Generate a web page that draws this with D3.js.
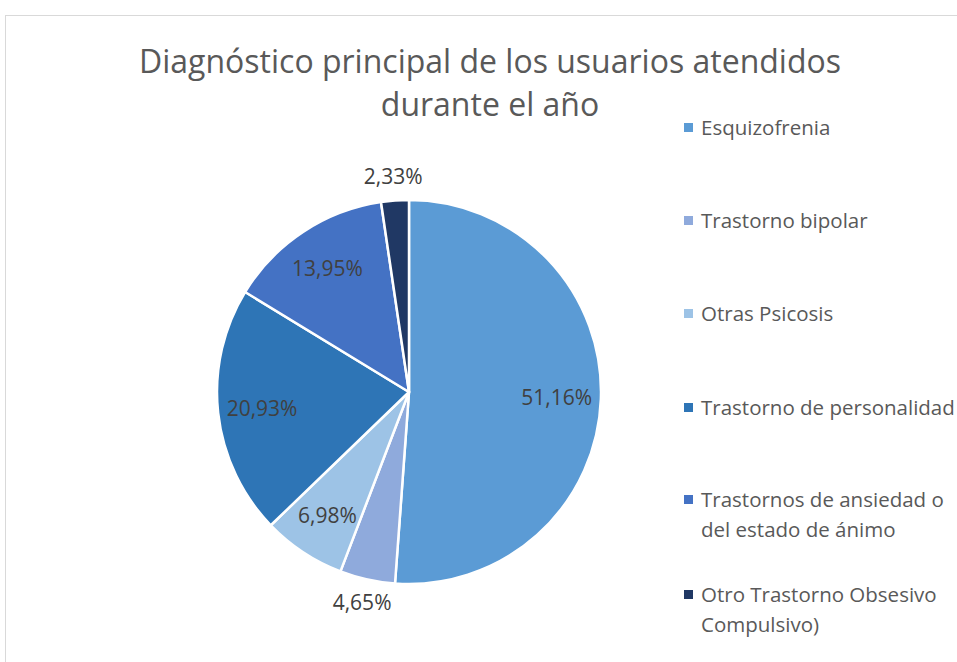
<!DOCTYPE html>
<html>
<head>
    <meta charset="utf-8">
    <title>Diagnóstico principal</title>
    <script src="https://d3js.org/d3.v7.min.js"></script>
    <style>
        body { margin: 0; background: #fff; }
    </style>
</head>
<body>
    <script>
        // datos (porcentajes)
        var categories = ["Esquizofrenia", "Trastorno bipolar", "Otras Psicosis",
            "Trastorno de personalidad", "Trastornos de ansiedad o del estado de ánimo",
            "Otro Trastorno Obsesivo Compulsivo)"];
        var values = [51.16, 4.65, 6.98, 20.93, 13.95, 2.33];
        var valueLabels = ["51,16%", "4,65%", "6,98%", "20,93%", "13,95%", "2,33%"];
        var legendLines = [["Esquizofrenia"], ["Trastorno bipolar"], ["Otras Psicosis"],
            ["Trastorno de personalidad"], ["Trastornos de ansiedad o", "del estado de ánimo"],
            ["Otro Trastorno Obsesivo", "Compulsivo)"]];
        var colors = ["#5b9bd5", "#8faadc", "#9dc3e6", "#2e75b6", "#4472c4", "#203864"];

        var w = 957, h = 662;
        var cx = 409, cy = 392, r = 192;
        var font = "'Open Sans', sans-serif";

        var svg = d3.select("body").append("svg")
            .attr("width", w)
            .attr("height", h);

        // borde del area del grafico
        svg.append("rect")
            .attr("x", 5.5).attr("y", 15.5)
            .attr("width", w + 10).attr("height", h + 10)
            .attr("fill", "none")
            .attr("stroke", "#d9d9d9");

        // titulo
        var title = svg.append("text")
            .attr("text-anchor", "middle")
            .attr("font-family", font)
            .attr("font-size", 32)
            .attr("fill", "#595959");
        title.append("tspan").attr("x", 490).attr("y", 73).text("Diagnóstico principal de los usuarios atendidos");
        title.append("tspan").attr("x", 490).attr("y", 116).text("durante el año");

        var pie = d3.pie().sort(null).value(function (d) { return d; });
        var arcs = pie(values);
        var arc = d3.arc().innerRadius(0).outerRadius(r);
        var inLabel = d3.arc().innerRadius(r * 0.77).outerRadius(r * 0.77);
        var outLabel = d3.arc().innerRadius(r + 24).outerRadius(r + 24);

        var g = svg.append("g").attr("transform", "translate(" + cx + "," + cy + ")");

        g.selectAll("path")
            .data(arcs)
            .enter()
            .append("path")
            .attr("d", arc)
            .attr("fill", function (d, i) { return colors[i]; })
            .attr("stroke", "#fff")
            .attr("stroke-width", 2.5)
            .attr("stroke-linejoin", "round");

        g.selectAll("text.lbl")
            .data(arcs)
            .enter()
            .append("text")
            .attr("class", "lbl")
            .attr("transform", function (d) {
                var p = d.value < 5 ? outLabel.centroid(d) : inLabel.centroid(d);
                return "translate(" + p[0] + "," + p[1] + ")";
            })
            .attr("dy", "0.35em")
            .attr("text-anchor", "middle")
            .attr("font-family", font)
            .attr("font-size", 21)
            .attr("fill", "#404040")
            .text(function (d, i) { return valueLabels[i]; });

        // leyenda
        var legendY = [128, 221, 314, 408, 500, 595];
        var lg = svg.selectAll("g.leg")
            .data(categories)
            .enter()
            .append("g")
            .attr("class", "leg")
            .attr("transform", function (d, i) { return "translate(684," + legendY[i] + ")"; });

        lg.append("rect")
            .attr("x", 0).attr("y", -5)
            .attr("width", 9).attr("height", 9)
            .attr("fill", function (d, i) { return colors[i]; });

        lg.append("text")
            .attr("font-family", font)
            .attr("font-size", 20.5)
            .attr("fill", "#595959")
            .each(function (d, i) {
                var t = d3.select(this);
                legendLines[i].forEach(function (line, j) {
                    t.append("tspan")
                        .attr("x", 17)
                        .attr("y", j * 30)
                        .attr("dy", "0.35em")
                        .text(line);
                });
            });
    </script>
</body>
</html>
